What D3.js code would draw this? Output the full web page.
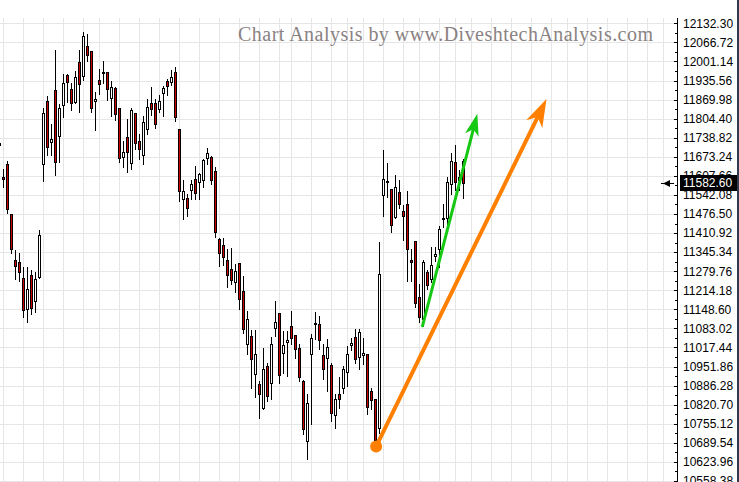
<!DOCTYPE html>
<html><head><meta charset="utf-8">
<script src="https://cdn.jsdelivr.net/npm/d3@7"></script>
<style>html,body{margin:0;padding:0;background:#fff;overflow:hidden}</style>
</head><body>
<svg id="chart" width="739" height="482"></svg>
<script>
// ---------------- DATA ----------------
const openV = [
  11719.5,11604.7,11649.5,11477.1,11318.5,11310.3,11256.5,11149.6,11266.8,11175.8,
  11258.5,11649.5,11864.4,11724.0,11902.3,11744.7,11853.0,11955.0,11904.7,11861.9,
  11997.8,11951.6,12054.0,12037.8,11864.4,11936.8,11964.3,11963.3,11873.7,11908.1,
  11842.6,11672.3,11741.3,11653.0,11824.0,11726.4,11680.6,11767.8,11859.9,11859.9,
  11839.2,11890.9,11933.3,11928.8,11963.3,11770.2,11528.9,11532.3,11559.9,11597.8,
  11586.1,11594.4,11670.2,11672.3,11624.0,11390.9,11370.3,11318.5,11287.5,11241.3,
  11306.8,11212.7,11028.9,11057.5,10925.5,10891.0,10810.3,10954.1,10894.4,11084.1,
  11135.8,10997.9,11037.9,11091.0,11059.9,11015.1,10902.4,10695.5,10994.4,11097.9,
  11097.9,10991.0,10982.7,10956.5,10784.1,10856.5,10879.3,10933.4,11025.5,11054.1,
  10985.1,10991.0,10994.4,10867.9,10839.3,10741.3,11540.2,11585.1,11563.3,11465.4,
  11551.6,11488.5,11511.6,11318.5,11385.1,11192.0,11115.1,11278.2,11253.0,11332.3,
  11356.5,11459.9,11463.3,11580.6,11655.1,11594.4,11658.5
];
const highV = [
  11726.4,11632.3,11657.5,11477.1,11353.0,11342.7,11293.0,11293.0,11284.1,11275.8,
  11422.0,11842.6,11882.6,11785.0,12040.2,11856.4,11957.4,11957.4,11925.4,11967.8,
  12040.2,12102.3,12095.4,12037.8,11896.4,11974.7,12002.3,11963.3,11933.3,11911.6,
  11842.6,11726.4,11802.3,11841.2,11824.0,11753.0,11812.6,11871.2,11911.6,11871.2,
  11885.0,11916.1,11940.2,11971.2,11982.6,11770.2,11592.0,11543.7,11592.0,11640.2,
  11618.5,11666.8,11704.7,11677.1,11637.8,11394.4,11394.4,11356.5,11359.9,11304.7,
  11306.8,11264.4,11143.7,11077.2,11077.2,10902.4,11017.2,10965.5,11054.1,11178.2,
  11135.8,11074.8,11074.8,11143.7,11059.9,11028.9,10905.8,10856.5,11065.5,11137.9,
  11126.5,11028.9,11046.1,10965.5,10856.5,10916.2,10954.1,11023.0,11051.7,11080.6,
  11082.7,11051.7,10994.4,10877.2,10839.3,11381.6,11695.4,11653.0,11563.3,11609.2,
  11592.0,11505.8,11554.0,11356.5,11385.1,11235.8,11318.5,11284.1,11362.0,11362.0,
  11436.8,11511.6,11603.3,11686.1,11712.6,11628.9,11666.8
];
const lowV = [
  11705.7,11568.9,11479.2,11342.7,11253.0,11247.2,11123.0,11103.4,11132.3,11137.9,
  11256.5,11589.5,11678.2,11678.2,11611.6,11655.1,11810.2,11861.9,11833.3,11858.5,
  11827.5,11936.8,12002.3,11827.5,11766.8,11887.5,11925.4,11867.8,11813.7,11798.8,
  11655.1,11637.8,11620.6,11632.3,11701.3,11666.8,11649.5,11753.0,11816.1,11772.3,
  11827.5,11813.7,11885.0,11919.5,11796.4,11520.6,11459.9,11471.3,11526.4,11528.9,
  11528.9,11568.9,11649.5,11580.6,11396.5,11298.9,11301.3,11224.1,11235.8,11206.8,
  11149.6,11068.9,10994.4,10877.2,10847.2,10775.8,10804.8,10833.4,10839.3,11057.5,
  10896.5,10931.0,10919.6,11031.0,10982.7,10902.4,10718.6,10632.4,10753.1,11046.1,
  11011.7,10910.3,10867.9,10764.4,10741.3,10810.3,10862.0,10885.1,11009.2,10965.5,
  10942.7,10959.9,10789.6,10804.8,10689.6,10724.1,11468.9,11534.4,11413.7,11462.0,
  11497.8,11387.5,11247.2,11247.2,11155.1,11106.8,11092.0,11218.5,11241.3,11316.1,
  11293.0,11430.9,11430.9,11546.1,11559.9,11557.5,11530.9
];
const closeV = [
  11712.6,11597.8,11494.4,11356.5,11296.5,11275.8,11146.1,11218.5,11153.0,11253.0,
  11404.7,11825.4,11706.8,11735.7,11655.1,11842.6,11925.4,11928.8,11858.5,11946.1,
  11921.9,12088.5,12021.9,11842.6,11871.2,11921.9,11959.9,11904.7,11911.6,11821.9,
  11670.2,11689.5,11689.5,11833.3,11720.6,11698.8,11793.0,11844.7,11839.2,11787.5,
  11864.4,11908.1,11916.1,11946.1,11810.2,11555.1,11554.0,11497.8,11580.6,11549.5,
  11612.6,11660.9,11686.1,11594.4,11413.7,11341.3,11329.9,11266.8,11249.6,11281.6,
  11184.1,11080.6,11115.1,10977.2,10994.4,10856.5,10942.7,10850.6,11028.9,11103.4,
  10923.0,11025.5,11042.7,11049.6,11011.7,10916.2,10735.8,10825.5,11051.7,11102.3,
  11042.7,10942.7,11019.6,10793.1,10839.3,10841.3,10942.7,10996.5,11032.3,10977.2,
  11071.3,10997.9,10812.7,10835.8,10697.9,11270.3,11597.8,11588.5,11439.2,11568.9,
  11511.6,11470.2,11356.5,11312.7,11170.3,11120.6,11310.3,11232.3,11301.3,11339.2,
  11425.4,11463.3,11586.1,11658.5,11586.1,11603.3,11582.6
];
const tickLabels = ["12132.30","12066.72","12001.14","11935.56","11869.98","11804.40",
  "11738.82","11673.24","11607.66","11542.08","11476.50","11410.92","11345.34","11279.76",
  "11214.18","11148.60","11083.02","11017.44","10951.86","10886.28","10820.70","10755.12",
  "10689.54","10623.96","10558.38"];
// bar index of each week-start grid line (includes future empty bars)
const gridIdx = [1,6,11,16,21,25,30,35,40,45,50,55,60,65,70,73,78,83,87,91,96,101,105,110,114,118,
  123,128,133,138,142,147,152,157,162,166];
const lastPriceLabel = "11582.60";
const titleText = "Chart Analysis by www.DiveshtechAnalysis.com";
const orangeArrow = {fromIdx: 94.2, fromPrice: 10677, toIdx: 136.8, toPrice: 11872};
const greenArrow  = {fromIdx: 105.8, fromPrice: 11092, toIdx: 119.5, toPrice: 11821};

// ---------------- DRAW ----------------
const W = 739, H = 482;
const svg = d3.select("#chart");
const tickVals = tickLabels.map(Number);
const x = d3.scaleLinear().domain([0, 170]).range([-0.67, 679.33]);
const y = d3.scaleLinear().domain([tickVals[0], tickVals[tickVals.length - 1]])
  .range([23.3, 23.3 + 24 * 19.07]);
const axisX = 677;
const gridTop = 18;

svg.append("rect").attr("width", W).attr("height", H).attr("fill", "#fff");

// grid
const grid = svg.append("g").attr("shape-rendering", "crispEdges").attr("stroke", "#e6e6e6").attr("stroke-width", 1);
grid.selectAll("line.v").data(gridIdx).join("line").attr("class", "v")
  .attr("x1", d => Math.floor(x(d)) + 0.5).attr("x2", d => Math.floor(x(d)) + 0.5)
  .attr("y1", gridTop).attr("y2", H);
grid.selectAll("line.h").data(tickVals).join("line").attr("class", "h")
  .attr("x1", 0).attr("x2", axisX)
  .attr("y1", d => Math.round(y(d)) + 0.5).attr("y2", d => Math.round(y(d)) + 0.5);

// title
svg.append("text").attr("x", 238).attr("y", 41)
  .attr("font-family", "'Liberation Serif', 'Times New Roman', serif")
  .attr("font-size", 20).attr("fill", "#8a8282")
  .attr("textLength", 415).attr("lengthAdjust", "spacing")
  .text(titleText);

// candles
const bars = openV.map((o, i) => ({i, o, h: highV[i], l: lowV[i], c: closeV[i]}));
const cg = svg.append("g").attr("shape-rendering", "crispEdges");
const candle = cg.selectAll("g").data(bars).join("g");
candle.append("line")
  .attr("x1", d => Math.floor(x(d.i)) + 0.5).attr("x2", d => Math.floor(x(d.i)) + 0.5)
  .attr("y1", d => Math.round(y(d.h))).attr("y2", d => Math.round(y(d.l)) + 1)
  .attr("stroke", "#000").attr("stroke-width", 1);
candle.append("rect")
  .attr("x", d => Math.floor(x(d.i)) - 1 + 0.5)
  .attr("width", 2)
  .attr("y", d => Math.round(y(Math.max(d.o, d.c))) + 0.5)
  .attr("height", d => Math.max(1, Math.round(y(Math.min(d.o, d.c))) - Math.round(y(Math.max(d.o, d.c)))))
  .attr("fill", d => d.c >= d.o ? "#ffffff" : "#cc0000")
  .attr("stroke", "#000").attr("stroke-width", 1);

// arrows
function drawArrow(a, color, w, L, hw) {
  const x1 = x(a.fromIdx), y1 = y(a.fromPrice), x2 = x(a.toIdx), y2 = y(a.toPrice);
  const dx = x2 - x1, dy = y2 - y1, len = Math.hypot(dx, dy);
  const ux = dx / len, uy = dy / len, nx = -uy, ny = ux;
  const bx = x2 - L * ux, by = y2 - L * uy;
  const mx = x2 - 0.72 * L * ux, my = y2 - 0.72 * L * uy;
  svg.append("line").attr("x1", x1).attr("y1", y1).attr("x2", mx).attr("y2", my)
    .attr("stroke", color).attr("stroke-width", w).attr("stroke-linecap", "round");
  svg.append("path")
    .attr("d", `M${x2},${y2}L${bx + hw * nx},${by + hw * ny}L${mx},${my}L${bx - hw * nx},${by - hw * ny}Z`)
    .attr("fill", color);
}
drawArrow(orangeArrow, "#ff8000", 4, 28, 9);
svg.append("circle").attr("cx", x(orangeArrow.fromIdx)).attr("cy", y(orangeArrow.fromPrice))
  .attr("r", 6).attr("fill", "#ff8000");
drawArrow(greenArrow, "#14c814", 3, 22, 7);

// axis
const axisG = svg.append("g").attr("transform", `translate(${axisX},0)`);
axisG.call(d3.axisRight(y).tickValues(tickVals).tickSize(-3).tickSizeOuter(0).tickPadding(6)
  .tickFormat((d, i) => tickLabels[i]));
const minorVals = d3.pairs(tickVals).map(p => (p[0] + p[1]) / 2);
axisG.append("g").call(d3.axisRight(y).tickValues(minorVals).tickSize(-2).tickSizeOuter(0).tickFormat(""));
axisG.selectAll(".domain").remove();
axisG.selectAll("text").attr("font-family", "'Liberation Sans', Arial, sans-serif")
  .attr("font-size", 12).attr("fill", "#000");
axisG.selectAll(".tick line").attr("stroke", "#000").attr("shape-rendering", "crispEdges");
svg.append("line").attr("x1", axisX + 0.5).attr("x2", axisX + 0.5).attr("y1", gridTop).attr("y2", H)
  .attr("stroke", "#000").attr("shape-rendering", "crispEdges");

// last price marker
const yp = y(+lastPriceLabel);
svg.append("rect").attr("x", 680).attr("y", Math.round(yp) - 8).attr("width", 57).attr("height", 16).attr("fill", "#000");
svg.append("text").attr("x", 683).attr("y", yp).attr("dy", "0.36em")
  .attr("font-family", "'Liberation Sans', Arial, sans-serif").attr("font-size", 12)
  .attr("fill", "#fff").text(lastPriceLabel);
svg.append("line").attr("x1", 661).attr("x2", 674).attr("y1", Math.round(yp) + 0.5).attr("y2", Math.round(yp) + 0.5)
  .attr("stroke", "#000").attr("shape-rendering", "crispEdges");
svg.append("path").attr("d", `M663,${Math.round(yp) + 0.5}L670,${Math.round(yp) - 3}L670,${Math.round(yp) + 4}Z`).attr("fill", "#000");

// right border
svg.append("rect").attr("x", 737).attr("y", 0).attr("width", 2).attr("height", H).attr("fill", "#2e3c4c");
</script>
</body></html>
